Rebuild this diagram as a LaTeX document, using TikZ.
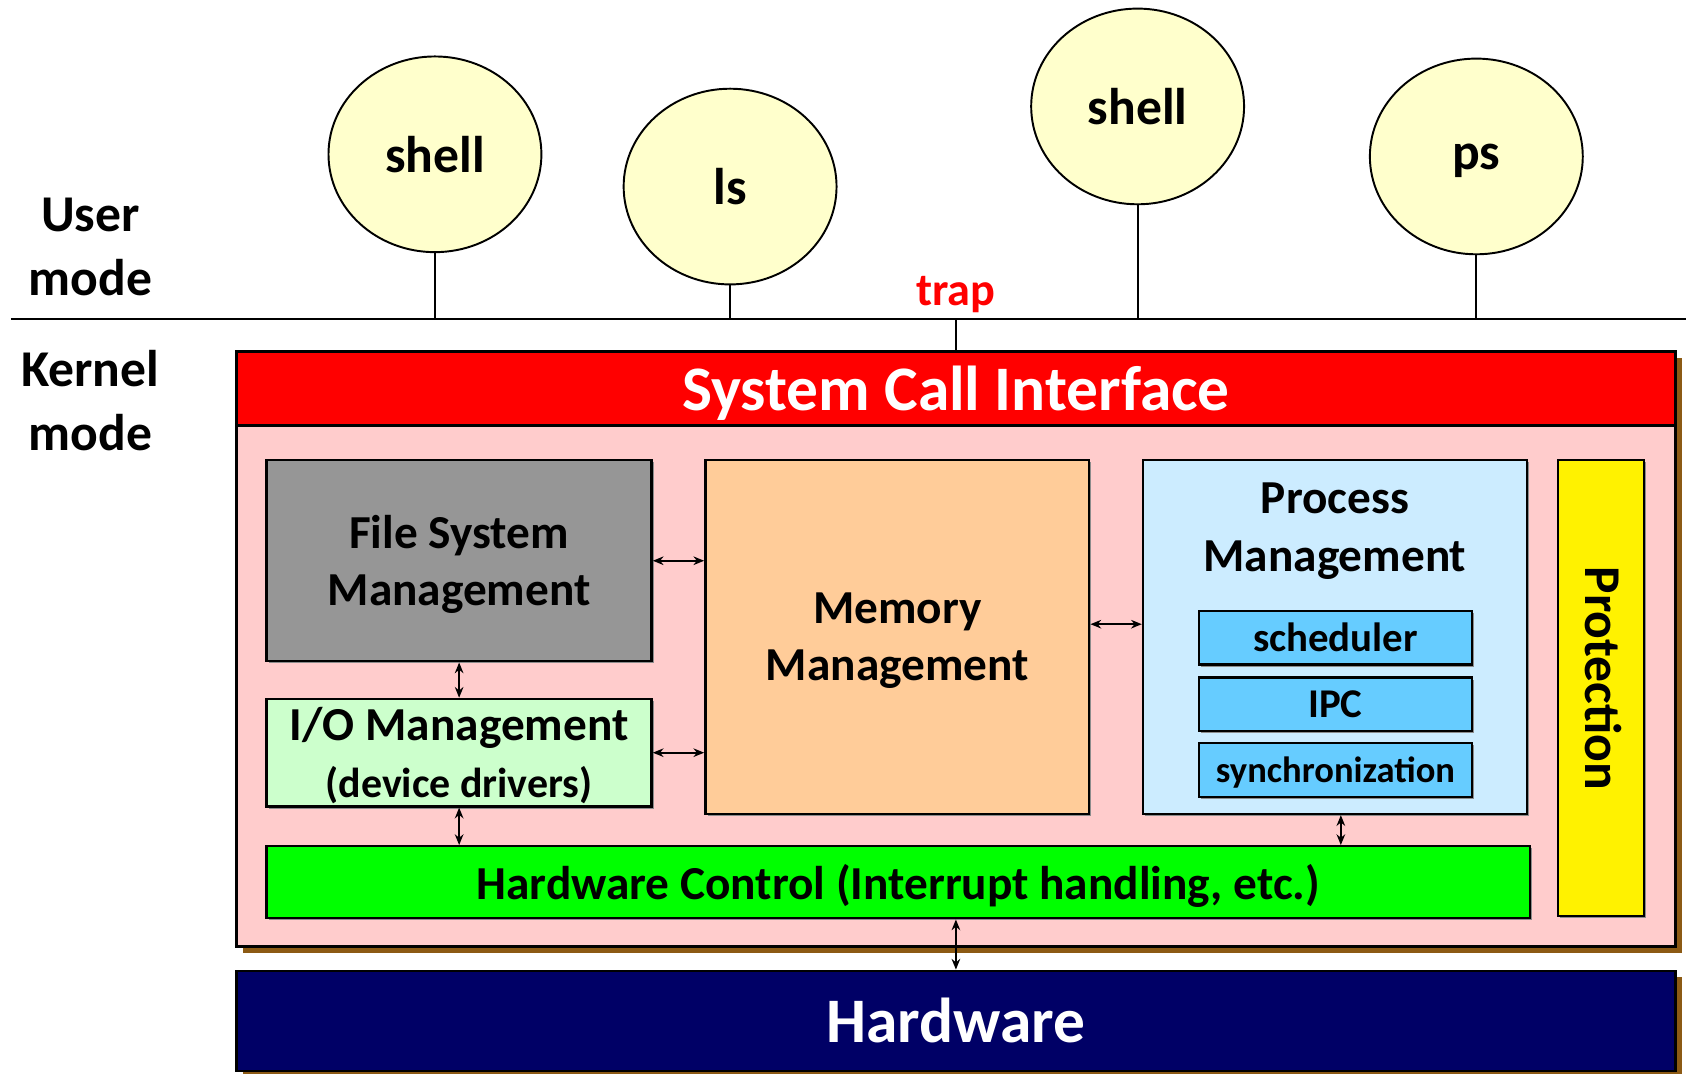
\documentclass[tikz,border=0pt]{standalone}
\usepackage{fontspec}
\setmainfont{Carlito}
\usetikzlibrary{calc}
\usetikzlibrary{arrows, arrows.meta}
\usetikzlibrary{shapes.geometric, shadows, positioning}

\definecolor{procYellow}{HTML}{FFFFCC}
\definecolor{kernelPink}{HTML}{FFCCCC}
\definecolor{fsGray}{HTML}{969696}
\definecolor{ioGreen}{HTML}{CCFFCC}
\definecolor{memOrange}{HTML}{FFCC99}
\definecolor{procBlue}{HTML}{CCECFF}
\definecolor{subBlue}{HTML}{66CCFF}
\definecolor{hcGreen}{HTML}{00FF00}
\definecolor{hwNavy}{HTML}{000066}
\definecolor{shadowBrown}{HTML}{8C5A14}

\newcommand\sz[2]{\fontsize{#1}{#2}\selectfont\bfseries}

\begin{document}
\begin{tikzpicture}[x=1pt, y=-1pt]

\useasboundingbox (0,0) rectangle (1568,998) ;

% user processes

\tikzstyle{process} = [shape=ellipse, draw=black, line width=1.8pt, fill=procYellow,
	minimum width=198pt, minimum height=182pt, inner sep=0pt, text depth=0pt, font=\sz{48}{58}]

\node [process] (shA) at (404.5, 143.5) {shell} ;
\node [process] (ls)  at (679, 173.5) {ls} ;
\node [process] (shB) at (1058, 99) {shell} ;
\node [process] (ps)  at (1373, 145.5) {ps} ;

% user / kernel boundary

\coordinate (modeL) at (10, 297) ;
\coordinate (modeR) at (1568, 297) ;
\draw [line width=2pt] (modeL) -- (modeR) ;

\foreach \p in {shA, ls, shB, ps}
	\draw [line width=1.8pt] (\p.south) -- (\p.south |- modeL) ;

\tikzstyle{mode label} = [align=center, inner sep=0pt, font=\sz{48}{59}]

\node [mode label] (user)   at (84, 229.5) {User\\mode} ;
\node [mode label] (kernelm) at (84, 372.5) {Kernel\\mode} ;

% kernel

\tikzstyle{layer} = [draw=black, line width=2.5pt, inner sep=0pt,
	drop shadow={shadow xshift=6pt, shadow yshift=-6pt, fill=shadowBrown, opacity=1}]

\node [layer, fill=kernelPink, minimum width=1338pt, minimum height=553pt] (kernel) at (889, 603.5) {} ;

\node [draw=black, line width=2.5pt, fill=red, text=white, inner sep=0pt, text depth=0pt,
	minimum width=1338pt, minimum height=69pt, font=\sz{59}{70}] (sci) at (889, 361.5) {System Call Interface} ;

\node [text=red, anchor=base, inner sep=0pt, font=\sz{43}{50}] (trap) at ($(sci.north |- modeL) + (0, -13)$) {trap} ;
\draw [line width=1.8pt] (sci.north |- modeL) -- (sci.north) ;

% kernel units

\tikzstyle{unit} = [draw=black, line width=2.2pt, inner sep=0pt, align=center, text depth=0pt, font=\sz{44}{53},
	drop shadow={shadow xshift=2pt, shadow yshift=-2pt, fill=black!45, opacity=1}]
\tikzstyle{subunit} = [unit, fill=subBlue, minimum width=254pt, minimum height=50pt, font=\sz{38}{46}]

\node [unit, fill=fsGray, minimum width=358pt, minimum height=187pt] (fs) at (427, 521.5) {File System\\Management} ;
\node [unit, fill=ioGreen, minimum width=358pt, minimum height=100pt] (io) at (427, 700) {I/O Management\\\sz{39}{47}(device drivers)} ;
\node [unit, fill=memOrange, minimum width=357pt, minimum height=329pt] (mem) at (834.5, 592.5) {Memory\\Management} ;
\node [unit, fill=procBlue, minimum width=357pt, minimum height=329pt] (proc) at (1241.5, 592.5) {} ;
\node [align=center, inner sep=0pt, text depth=0pt, font=\sz{44}{54}] (procT) at (1241.5, 490) {Process\\Management} ;

\node [subunit] (sched) at (1242, 593) {scheduler} ;
\node [subunit] (ipc)   at (1242, 655) {IPC} ;
\node [subunit, font=\sz{34}{40}] (sync) at (1242, 716) {synchronization} ;

\node [unit, fill=yellow, minimum width=80pt, minimum height=424pt] (prot) at (1489, 640) {} ;
\node [inner sep=0pt, font=\sz{48}{58}] (protT) at ([xshift=2pt, yshift=9pt]prot.center) {\rotatebox{-90}{Protection}} ;

\node [unit, fill=hcGreen, minimum width=1175pt, minimum height=67pt] (hc) at (835.5, 820.5) {Hardware Control (Interrupt handling, etc.)} ;

% hardware

\node [layer, fill=hwNavy, text=white, minimum width=1338pt, minimum height=93pt, font=\sz{59}{70}] (hw) at (889, 949.5) {Hardware} ;

% links

\tikzstyle{link} = [line width=1.6pt, {Stealth[length=10pt, width=8pt]}-{Stealth[length=10pt, width=8pt]}]

\draw [link] (fs.east) -- (fs.east -| mem.west) ;
\draw [link] (io.east) -- (io.east -| mem.west) ;
\draw [link] ([yshift=12pt]mem.east) -- ([yshift=12pt]mem.east -| proc.west) ;
\draw [link] (fs.south) -- (io.north) ;
\draw [link] (io.south) -- (io.south |- hc.north) ;
\draw [link] ([xshift=5.5pt]proc.south) -- ([xshift=5.5pt]proc.south |- hc.north) ;
\draw [link] (hw.north |- hc.south) -- (hw.north) ;

\end{tikzpicture}
\end{document}
